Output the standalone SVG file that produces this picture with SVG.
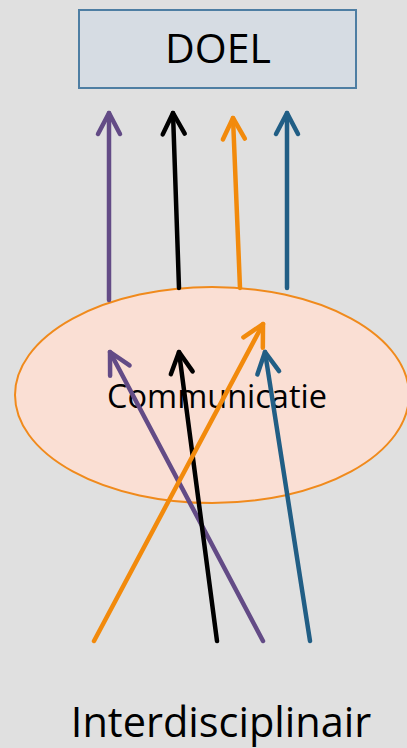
<svg xmlns="http://www.w3.org/2000/svg" width="407" height="748" viewBox="0 0 407 748">
<style>
.lbl{font-family:"Open Sans","Noto Sans","Liberation Sans",sans-serif;fill:#000}
.c{fill:none;stroke-width:4.5;stroke-linecap:round}
.pu{stroke:#634b86}.bk{stroke:#000}.or{stroke:#f28a0c}.bl{stroke:#215e85}
</style>
<defs>
<marker id="mPu" markerUnits="userSpaceOnUse" markerWidth="30" markerHeight="30" viewBox="-25 -15 30 30" refX="0" refY="0" orient="auto"><path d="M-21,-11 L0,0 L-21,11" fill="none" stroke="#634b86" stroke-width="4.5" stroke-linecap="round" stroke-linejoin="round"/></marker>
<marker id="mBk" markerUnits="userSpaceOnUse" markerWidth="30" markerHeight="30" viewBox="-25 -15 30 30" refX="0" refY="0" orient="auto"><path d="M-21,-11 L0,0 L-21,11" fill="none" stroke="#000" stroke-width="4.5" stroke-linecap="round" stroke-linejoin="round"/></marker>
<marker id="mOr" markerUnits="userSpaceOnUse" markerWidth="30" markerHeight="30" viewBox="-25 -15 30 30" refX="0" refY="0" orient="auto"><path d="M-21,-11 L0,0 L-21,11" fill="none" stroke="#f28a0c" stroke-width="4.5" stroke-linecap="round" stroke-linejoin="round"/></marker>
<marker id="mBl" markerUnits="userSpaceOnUse" markerWidth="30" markerHeight="30" viewBox="-25 -15 30 30" refX="0" refY="0" orient="auto"><path d="M-21,-11 L0,0 L-21,11" fill="none" stroke="#215e85" stroke-width="4.5" stroke-linecap="round" stroke-linejoin="round"/></marker>
</defs>
<rect x="0" y="0" width="407" height="748" fill="#e0e0e0"/>
<g id="doel">
<rect x="79" y="10" width="277" height="78" fill="#d6dce3" stroke="#4e7ea3" stroke-width="2"/>
<text class="lbl" x="218" y="63" font-size="41" text-anchor="middle">DOEL</text>
</g>
<g id="communicatie">
<ellipse cx="212" cy="395" rx="197" ry="108" fill="#fadfd4" stroke="#f08a1c" stroke-width="2"/>
<text class="lbl" x="217" y="408" font-size="32.5" text-anchor="middle">Communicatie</text>
</g>
<g id="interdisciplinair">
<text class="lbl" x="221" y="737" font-size="41.5" text-anchor="middle">Interdisciplinair</text>
</g>
<g id="connectors">
<line class="c pu" x1="109" y1="300" x2="109" y2="113" marker-end="url(#mPu)"/>
<line class="c bk" x1="179" y1="288" x2="173" y2="113" marker-end="url(#mBk)"/>
<line class="c or" x1="240" y1="288" x2="233" y2="118" marker-end="url(#mOr)"/>
<line class="c bl" x1="287" y1="288" x2="287" y2="113" marker-end="url(#mBl)"/>
<line class="c pu" x1="263" y1="641" x2="110" y2="352" marker-end="url(#mPu)"/>
<line class="c bk" x1="217" y1="641" x2="179" y2="352" marker-end="url(#mBk)"/>
<line class="c or" x1="94" y1="641" x2="263" y2="324" marker-end="url(#mOr)"/>
<line class="c bl" x1="310" y1="641" x2="265" y2="352" marker-end="url(#mBl)"/>
</g>
</svg>
